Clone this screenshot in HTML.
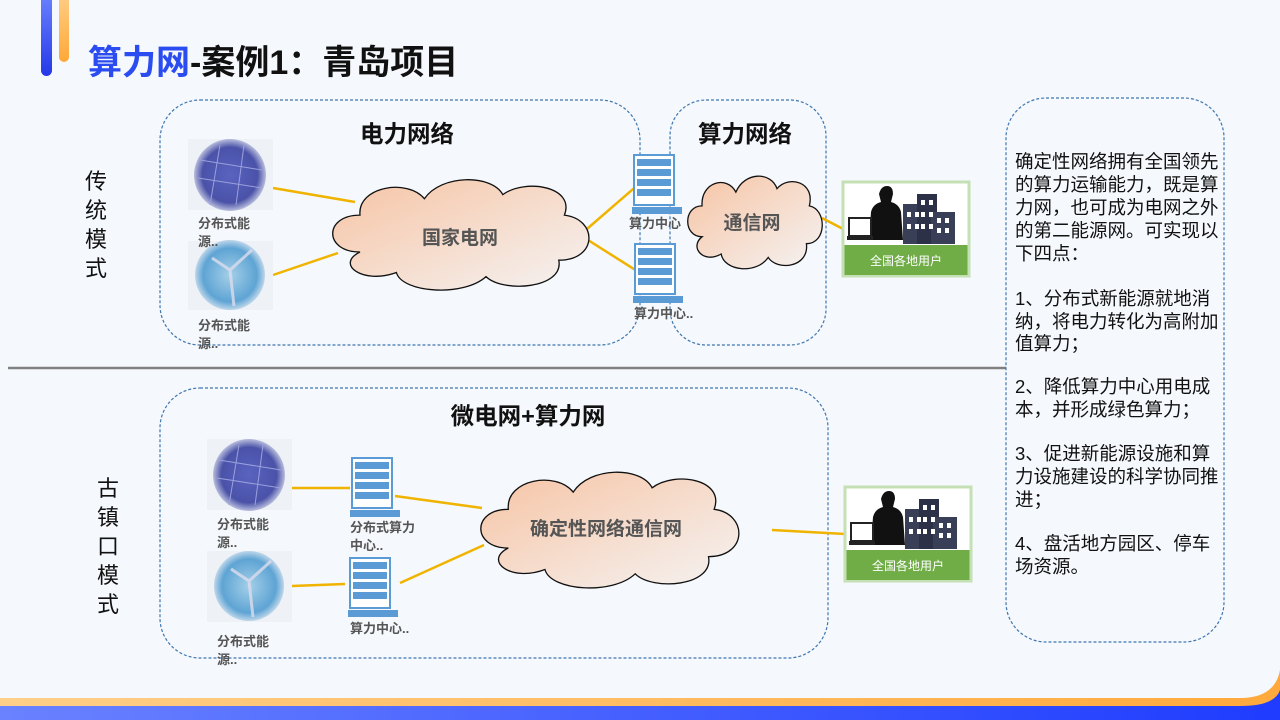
<!DOCTYPE html>
<html><head><meta charset="utf-8"><style>
html,body{margin:0;padding:0;width:1280px;height:720px;overflow:hidden;background:#f5f8fc}
svg{display:block}
text{font-family:"Liberation Sans","Noto Sans CJK SC",sans-serif}
</style></head><body>
<svg width="1280" height="720" viewBox="0 0 1280 720" xmlns="http://www.w3.org/2000/svg">
<defs>
<linearGradient id="bl" x1="0" y1="0" x2="0" y2="1"><stop offset="0" stop-color="#6f86ff"/><stop offset="1" stop-color="#2438e8"/></linearGradient>
<linearGradient id="or" x1="0" y1="0" x2="0" y2="1"><stop offset="0" stop-color="#ffd08a"/><stop offset="1" stop-color="#ffa838"/></linearGradient>
<linearGradient id="bb" x1="0" y1="0" x2="1" y2="0"><stop offset="0" stop-color="#6a82ff"/><stop offset="1" stop-color="#1f3cff"/></linearGradient>
<linearGradient id="ob" x1="0" y1="0" x2="1" y2="0"><stop offset="0" stop-color="#ffcf88"/><stop offset="1" stop-color="#ffa93c"/></linearGradient>
<linearGradient id="cl" x1="0" y1="0" x2="1" y2="1"><stop offset="0" stop-color="#f6c4a4"/><stop offset="1" stop-color="#f5f3f3"/></linearGradient>
<radialGradient id="sol" cx="0.5" cy="0.5" r="0.55"><stop offset="0" stop-color="#5a64c0"/><stop offset="0.7" stop-color="#4a52a8"/><stop offset="1" stop-color="#e8ecf4"/></radialGradient>
<radialGradient id="wind" cx="0.5" cy="0.5" r="0.55"><stop offset="0" stop-color="#a5cfe8"/><stop offset="0.7" stop-color="#5ea4d4"/><stop offset="1" stop-color="#e8ecf4"/></radialGradient>
<path id="cloud" vector-effect="non-scaling-stroke" d="M15,40 C2,40 2,22 15,22 C14,8 32,4 38,14 C44,2 62,2 66,12 C74,4 92,8 88,22 C100,24 100,44 86,44 C88,58 66,60 60,52 C52,62 30,60 28,50 C16,56 6,46 15,40 Z"/>
<g id="srv">
<rect x="2" y="0" width="40" height="50" fill="#fff" stroke="#5b9bd5" stroke-width="2"/>
<rect x="5" y="4" width="34" height="7" fill="#5b9bd5"/><rect x="5" y="14" width="34" height="7" fill="#5b9bd5"/><rect x="5" y="24" width="34" height="7" fill="#5b9bd5"/><rect x="5" y="34" width="34" height="7" fill="#5b9bd5"/>
<rect x="0" y="52" width="50" height="7" fill="#5b9bd5"/>
</g>
<g id="user">
<rect x="0" y="0" width="126" height="94" fill="#fff" stroke="#c5e0b4" stroke-width="3"/>
<rect x="1.5" y="63" width="123" height="30" fill="#70ad47"/>
<path d="M26,58 L28,30 Q30,22 38,20 L36,12 Q38,4 44,4 Q50,4 50,12 L48,20 Q56,22 58,30 L60,58 Z" fill="#111"/>
<rect x="6" y="36" width="22" height="18" fill="#fff" stroke="#222" stroke-width="2"/>
<rect x="4" y="54" width="26" height="4" fill="#222"/>
<rect x="60" y="22" width="26" height="40" fill="#3a3f58"/>
<rect x="74" y="12" width="20" height="50" fill="#2d3148"/>
<rect x="88" y="30" width="24" height="32" fill="#3a3f58"/>
<g fill="#fff"><rect x="64" y="30" width="4" height="5"/><rect x="72" y="30" width="4" height="5"/><rect x="64" y="42" width="4" height="5"/><rect x="72" y="42" width="4" height="5"/><rect x="78" y="18" width="4" height="5"/><rect x="86" y="18" width="4" height="5"/><rect x="78" y="30" width="4" height="5"/><rect x="86" y="30" width="4" height="5"/><rect x="78" y="42" width="4" height="5"/><rect x="86" y="42" width="4" height="5"/><rect x="94" y="36" width="4" height="5"/><rect x="102" y="36" width="4" height="5"/><rect x="94" y="46" width="4" height="5"/><rect x="102" y="46" width="4" height="5"/></g>
<text x="63" y="83" font-size="12" fill="#fff" text-anchor="middle">全国各地用户</text>
</g>
</defs>

<!-- title -->
<rect x="41" y="-10" width="11" height="86" rx="5.5" fill="url(#bl)"/>
<rect x="59" y="-10" width="10" height="72" rx="5" fill="url(#or)"/>
<text x="88" y="74" font-size="34" font-weight="bold" fill="#2a4cf0">算力网<tspan fill="#111">-案例1：青岛项目</tspan></text>

<!-- bottom bands -->
<path d="M0,698 L1240,698 Q1275,698 1280,670 L1280,720 L0,720 Z" fill="url(#ob)"/>
<path d="M0,706 L1240,706 Q1275,706 1280,690 L1280,720 L0,720 Z" fill="url(#bb)"/>

<!-- divider -->
<line x1="8" y1="368" x2="1006" y2="368" stroke="#808080" stroke-width="2.5"/>

<!-- boxes -->
<g fill="none" stroke="#3f76b0" stroke-width="1.2" stroke-dasharray="3,2">
<rect x="160" y="100" width="480" height="245" rx="40"/>
<rect x="670" y="100" width="156" height="245" rx="36"/>
<rect x="160" y="388" width="668" height="270" rx="40"/>
<rect x="1006" y="98" width="218" height="544" rx="40"/>
</g>

<!-- side labels -->
<g font-size="22" fill="#111" text-anchor="middle">
<text x="96" y="189">传</text><text x="96" y="218">统</text><text x="96" y="247">模</text><text x="96" y="276">式</text>
<text x="108" y="496">古</text><text x="108" y="525">镇</text><text x="108" y="554">口</text><text x="108" y="583">模</text><text x="108" y="612">式</text>
</g>

<!-- headings -->
<g font-size="23.5" font-weight="bold" fill="#111" text-anchor="middle">
<text x="407" y="142">电力网络</text>
<text x="745" y="142">算力网络</text>
<text x="528" y="424">微电网+算力网</text>
</g>

<!-- connectors -->
<g stroke="#f0b400" stroke-width="2.5" fill="none">
<line x1="273" y1="188" x2="355" y2="202"/>
<line x1="273" y1="275" x2="338" y2="253"/>
<line x1="580" y1="235" x2="640" y2="183"/>
<line x1="580" y1="235" x2="637" y2="271"/>
<line x1="822" y1="218" x2="845" y2="230"/>
<line x1="292" y1="488" x2="350" y2="488"/>
<line x1="395" y1="496" x2="482" y2="508"/>
<line x1="292" y1="586" x2="345" y2="584"/>
<line x1="400" y1="583" x2="484" y2="545"/>
<line x1="772" y1="530" x2="845" y2="534"/>
</g>

<!-- clouds -->
<g fill="url(#cl)" stroke="#111" stroke-width="1.3">
<use href="#cloud" transform="translate(318,170) scale(2.8,2.05)"/>
<use href="#cloud" transform="translate(680,168) scale(1.47,1.72)"/>
<use href="#cloud" transform="translate(466,462) scale(2.82,2.15)"/>
</g>
<g font-size="19" font-weight="bold" fill="#555" text-anchor="middle">
<text x="460" y="244">国家电网</text>
<text x="752" y="229">通信网</text>
<text x="606" y="535">确定性网络通信网</text>
</g>

<!-- photos -->
<rect x="188" y="139" width="85" height="71" fill="#eef1f6"/><circle cx="230" cy="175" r="36" fill="url(#sol)"/>
<g stroke="#9aa0dc" stroke-width="1"><line x1="200" y1="160" x2="262" y2="170"/><line x1="198" y1="178" x2="262" y2="188"/><line x1="220" y1="145" x2="210" y2="205"/><line x1="244" y1="145" x2="236" y2="205"/></g>
<rect x="188" y="241" width="85" height="69" fill="#eef1f6"/><circle cx="230" cy="275" r="35" fill="url(#wind)"/>
<g stroke="#dde" stroke-width="3" opacity="0.8"><line x1="230" y1="270" x2="252" y2="250"/><line x1="230" y1="270" x2="212" y2="258"/><line x1="230" y1="270" x2="234" y2="306"/></g>
<rect x="207" y="439" width="85" height="71" fill="#eef1f6"/><circle cx="249" cy="475" r="36" fill="url(#sol)"/>
<g stroke="#9aa0dc" stroke-width="1"><line x1="219" y1="460" x2="281" y2="470"/><line x1="217" y1="478" x2="281" y2="488"/><line x1="239" y1="445" x2="229" y2="505"/><line x1="263" y1="445" x2="255" y2="505"/></g>
<rect x="207" y="551" width="85" height="71" fill="#eef1f6"/><circle cx="249" cy="586" r="35" fill="url(#wind)"/>
<g stroke="#dde" stroke-width="3" opacity="0.8"><line x1="249" y1="581" x2="271" y2="561"/><line x1="249" y1="581" x2="231" y2="569"/><line x1="249" y1="581" x2="253" y2="617"/></g>

<g font-size="13" font-weight="bold" fill="#555">
<text x="198" y="228">分布式能</text><text x="198" y="246">源..</text>
<text x="198" y="330">分布式能</text><text x="198" y="348">源..</text>
<text x="217" y="529">分布式能</text><text x="217" y="547">源..</text>
<text x="217" y="646">分布式能</text><text x="217" y="664">源..</text>
<text x="629" y="228">算力中心</text>
<text x="634" y="318">算力中心..</text>
<text x="350" y="532">分布式算力</text><text x="350" y="550">中心..</text>
<text x="350" y="633">算力中心..</text>
</g>

<!-- servers -->
<use href="#srv" transform="translate(632,155)"/>
<use href="#srv" transform="translate(633,244)"/>
<use href="#srv" transform="translate(350,458)"/>
<use href="#srv" transform="translate(348,558)"/>

<!-- users -->
<use href="#user" transform="translate(843,182)"/>
<use href="#user" transform="translate(845,487)"/>

<!-- right text -->
<g font-size="18.5" fill="#111">
<text x="1015" y="168">确定性网络拥有全国领先</text>
<text x="1015" y="191">的算力运输能力，既是算</text>
<text x="1015" y="214">力网，也可成为电网之外</text>
<text x="1015" y="237">的第二能源网。可实现以</text>
<text x="1015" y="260">下四点：</text>
<text x="1015" y="305">1、分布式新能源就地消</text>
<text x="1015" y="328">纳，将电力转化为高附加</text>
<text x="1015" y="350">值算力；</text>
<text x="1015" y="393">2、降低算力中心用电成</text>
<text x="1015" y="416">本，并形成绿色算力；</text>
<text x="1015" y="460">3、促进新能源设施和算</text>
<text x="1015" y="483">力设施建设的科学协同推</text>
<text x="1015" y="506">进；</text>
<text x="1015" y="550">4、盘活地方园区、停车</text>
<text x="1015" y="573">场资源。</text>
</g>
</svg>
</body></html>
